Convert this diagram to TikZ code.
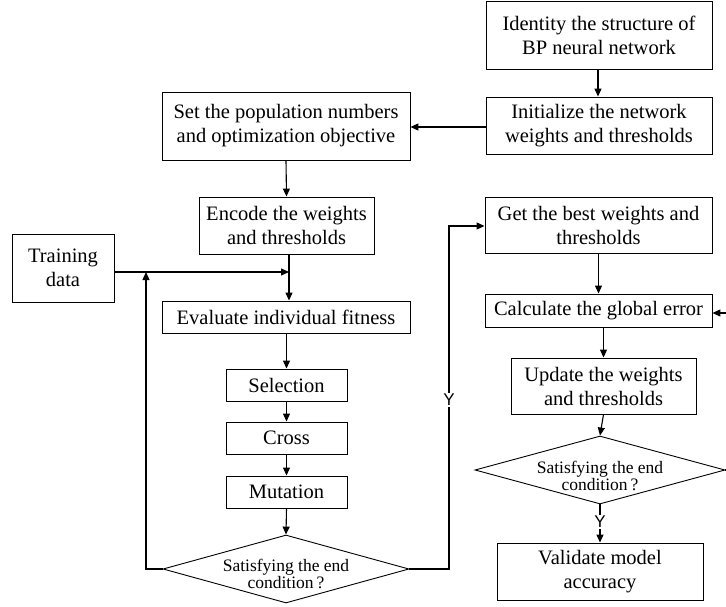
\documentclass[tikz,border=0pt]{standalone}
\usepackage{fontspec}
\setmainfont{Liberation Serif}
\newfontfamily\labfont{Liberation Sans}
\usetikzlibrary{shapes.geometric,arrows.meta}
\begin{document}
\begin{tikzpicture}[x=1pt,y=-1pt,
  box/.style={draw, line width=0.9pt, inner sep=0pt, align=center, font=\fontsize{20.5}{24}\selectfont},
  diam/.style={draw, diamond, line width=0.9pt, inner sep=0pt},
  dtext/.style={align=center, inner sep=0pt, font=\fontsize{17.5}{14.5}\selectfont},
  arr/.style={line width=1.1pt, -{Triangle[length=8pt,width=7pt]}},
  ln/.style={line width=1.1pt},
  ylab/.style={fill=white, inner sep=1.5pt, font=\labfont\fontsize{17}{17}\selectfont}]
\clip (0,0) rectangle (726,607);
% boxes
\node[box, minimum width=226pt, minimum height=68pt] (id) at (599,35) {Identity the structure of\\BP neural network};
\node[box, minimum width=226pt, minimum height=57pt] (init) at (599,125.5) {Initialize the network\\weights and thresholds};
\node[box, minimum width=248pt, minimum height=68pt] (set) at (286,126) {Set the population numbers\\and optimization objective};
\node[box, minimum width=175pt, minimum height=57pt] (enc) at (286.5,225.5) {Encode the weights\\and thresholds};
\node[box, minimum width=102pt, minimum height=68pt] (train) at (63,268) {Training\\data};
\node[box, minimum width=248pt, minimum height=32pt] (eval) at (286,317) {Evaluate individual fitness};
\node[box, minimum width=121pt, minimum height=32pt] (sel) at (286.5,385) {Selection};
\node[box, minimum width=121pt, minimum height=32pt] (cross) at (286.5,438) {Cross};
\node[box, minimum width=121pt, minimum height=32pt] (mut) at (286.5,492) {Mutation};
\node[diam, minimum width=246pt, minimum height=68pt] (d1) at (286,569) {};
\node[dtext] (d1t) at (286,574) {Satisfying the end\\condition\,?};
\node[box, minimum width=227pt, minimum height=56pt] (get) at (598.5,225) {Get the best weights and\\thresholds};
\node[box, minimum width=227pt, minimum height=33pt] (calc) at (598.5,310.5) {Calculate the global error};
\node[box, minimum width=185pt, minimum height=56pt] (upd) at (603.5,386) {Update the weights\\and thresholds};
\node[diam, minimum width=250pt, minimum height=68pt] (d2) at (600,470) {};
\node[dtext] (d2t) at (600,476) {Satisfying the end\\condition\,?};
\node[box, minimum width=206pt, minimum height=57pt] (val) at (600,571.5) {Validate model\\accuracy};
% junction coordinates
\coordinate (jt) at (289,272);
\coordinate (lp) at (146,569);
\coordinate (lu) at (146,272);
\coordinate (rp) at (449,569);
\coordinate (ru) at (449,226);
\coordinate (fb1) at (740,470);
\coordinate (fb2) at (740,313);
% connectors
\draw[arr] (id.south -| 598,0) -- (init.north -| 598,0);
\draw[arr] (init.west |- 0,127) -- (set.east |- 0,127);
\draw[arr] (set.south) -- (enc.north);
\draw[arr] (enc.south -| jt) -- (eval.north -| jt);
\draw[arr] (train.east |- jt) -- (jt);
\draw[arr] (d1.west) -- (lp) -- (lu);
\draw[arr] (eval.south -| sel.north) -- (sel.north);
\draw[arr] (sel.south) -- (cross.north);
\draw[arr] (cross.south) -- (mut.north);
\draw[arr] (mut.south) -- (d1.north);
\draw[arr] (d1.east) -- (rp) -- (ru) -- (get.west |- ru);
\node[ylab] (y1) at (449,400) {Y};
\draw[arr] (get.south) -- (calc.north);
\draw[arr] (calc.south -| upd.north) -- (upd.north);
\draw[arr] (upd.south) -- (d2.north);
\draw[arr] (d2.south) -- (val.north);
\node[ylab] (y2) at (600,522) {Y};
\draw[arr] (d2.east) -- (fb1) -- (fb2) -- (calc.east |- fb2);
\end{tikzpicture}
\end{document}
